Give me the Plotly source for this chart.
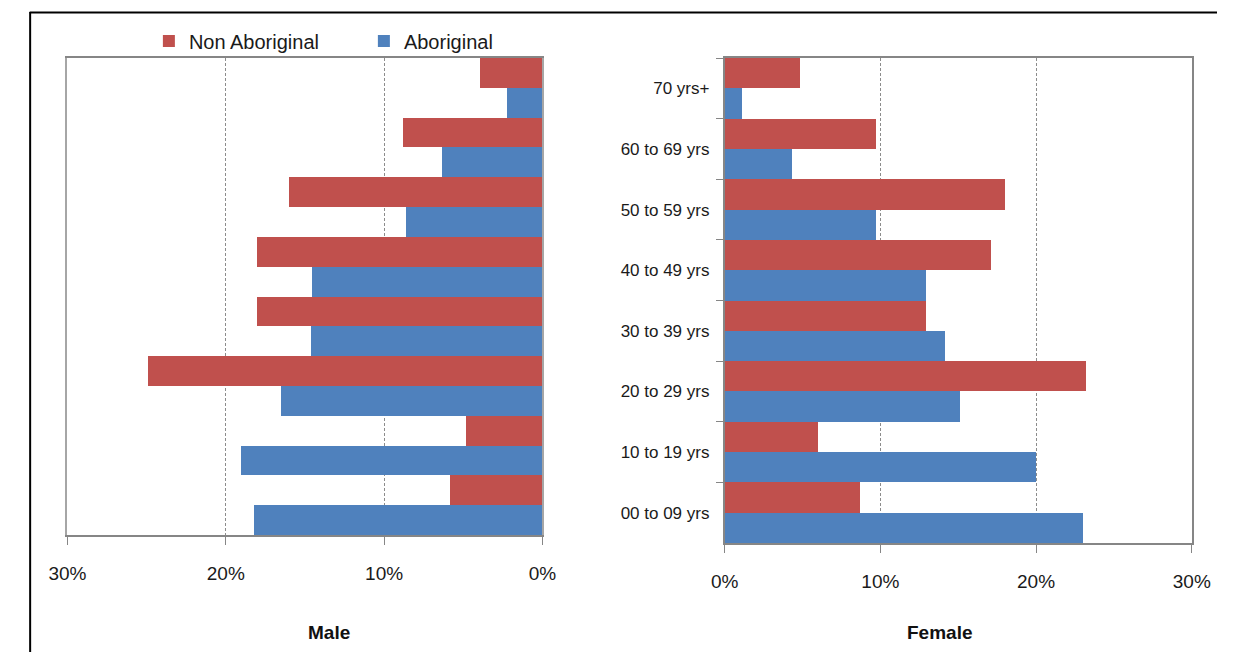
import plotly.graph_objects as go

# Age bands, bottom to top
age_groups = ["00 to 09 yrs", "10 to 19 yrs", "20 to 29 yrs", "30 to 39 yrs",
              "40 to 49 yrs", "50 to 59 yrs", "60 to 69 yrs", "70 yrs+"]

# Share of each population (%) by age band
male_non_aboriginal = [5.8, 4.8, 24.9, 18.0, 18.0, 16.0, 8.8, 3.9]
male_aboriginal = [18.2, 19.0, 16.5, 14.6, 14.5, 8.6, 6.3, 2.2]
female_non_aboriginal = [8.7, 6.0, 23.2, 12.9, 17.1, 18.0, 9.7, 4.8]
female_aboriginal = [23.0, 20.0, 15.1, 14.1, 12.9, 9.7, 4.3, 1.1]

pct_ticks = [0, 10, 20, 30]
pct_tick_labels = ["0%", "10%", "20%", "30%"]

RED = "#C0504D"
BLUE = "#4F81BD"
FRAME = "#A6A6A6"
AXIS = "#868686"
GRID = "#8C8C8C"
FONT = "Liberation Sans"

W, H = 1236, 652

fig = go.Figure()

# Male panel (left, mirrored)
fig.add_trace(go.Bar(y=age_groups, x=male_aboriginal, orientation="h", name="Aboriginal",
                     marker=dict(color=BLUE, line=dict(width=0)), xaxis="x", yaxis="y",
                     legendgroup="abo"))
fig.add_trace(go.Bar(y=age_groups, x=male_non_aboriginal, orientation="h", name="Non Aboriginal",
                     marker=dict(color=RED, line=dict(width=0)), xaxis="x", yaxis="y",
                     legendgroup="non"))
# Female panel (right)
fig.add_trace(go.Bar(y=age_groups, x=female_aboriginal, orientation="h", name="Aboriginal",
                     marker=dict(color=BLUE, line=dict(width=0)), xaxis="x2", yaxis="y2",
                     legendgroup="abo", showlegend=False))
fig.add_trace(go.Bar(y=age_groups, x=female_non_aboriginal, orientation="h", name="Non Aboriginal",
                     marker=dict(color=RED, line=dict(width=0)), xaxis="x2", yaxis="y2",
                     legendgroup="non", showlegend=False))


def px_x(p):
    return p / W


def px_y(p):
    return 1 - p / H


tick_font = dict(family=FONT, size=19, color="#1a1a1a")

fig.update_layout(
    width=W, height=H,
    margin=dict(l=0, r=0, t=0, b=0),
    paper_bgcolor="white", plot_bgcolor="white",
    barmode="group", bargap=0, bargroupgap=0,
    font=dict(family=FONT, color="#1a1a1a"),
    showlegend=True,
    legend=dict(orientation="h", traceorder="reversed",
                x=px_x(134), xanchor="left", y=px_y(41), yanchor="middle",
                font=dict(family=FONT, size=20, color="#1a1a1a"),
                entrywidth=170, entrywidthmode="pixels",
                itemclick=False, itemdoubleclick=False,
                bgcolor="rgba(0,0,0,0)"),
    xaxis=dict(domain=[px_x(50), px_x(540)], range=[30, 0], anchor="y",
               tickmode="array", tickvals=pct_ticks, ticktext=pct_tick_labels,
               tickfont=tick_font,
               ticks="outside", ticklen=8, tickcolor=AXIS, tickwidth=1,
               ticklabelstandoff=12,
               showline=True, linecolor=AXIS, linewidth=1.5, mirror=True,
               showgrid=True, gridcolor=GRID, gridwidth=1, griddash="3px,2px",
               zeroline=False, fixedrange=True),
    yaxis=dict(domain=[px_y(535), px_y(58)], anchor="x", range=[-0.5, 7.5],
               showticklabels=False, ticks="",
               showline=True, linecolor=FRAME, linewidth=1.5, mirror=True,
               showgrid=False, zeroline=False, fixedrange=True),
    xaxis2=dict(domain=[px_x(728), px_x(1210)], range=[0, 30], anchor="y2",
                tickmode="array", tickvals=pct_ticks, ticktext=pct_tick_labels,
                tickfont=tick_font,
                ticks="outside", ticklen=8, tickcolor=AXIS, tickwidth=1,
                ticklabelstandoff=12,
                showline=True, linecolor=AXIS, linewidth=1.5, mirror=True,
                showgrid=True, gridcolor=GRID, gridwidth=1, griddash="3px,2px",
                zeroline=False, fixedrange=True),
    yaxis2=dict(domain=[px_y(543), px_y(58)], anchor="x2", range=[-0.5, 7.5],
                tickfont=dict(family=FONT, size=17, color="#1a1a1a"),
                ticks="outside", ticklen=7, tickcolor=AXIS, tickson="boundaries",
                ticklabelstandoff=10,
                showline=True, linecolor=AXIS, linewidth=1.5, mirror=True,
                showgrid=False, zeroline=False, fixedrange=True),
    annotations=[
        dict(text="<b>Male</b>", x=px_x(320), y=px_y(632), xref="paper", yref="paper",
             xanchor="center", yanchor="middle",
             showarrow=False, font=dict(family=FONT, size=19, color="#111")),
        dict(text="<b>Female</b>", x=px_x(950), y=px_y(632), xref="paper", yref="paper",
             xanchor="center", yanchor="middle",
             showarrow=False, font=dict(family=FONT, size=19, color="#111")),
    ],
    shapes=[
        # outer chart frame (top and left edges)
        dict(type="line", xref="paper", yref="paper", x0=px_x(11), x1=1.0,
             y0=px_y(12.5), y1=px_y(12.5), line=dict(color="black", width=2)),
        dict(type="line", xref="paper", yref="paper", x0=px_x(11.5), x1=px_x(11.5),
             y0=px_y(12), y1=0.0, line=dict(color="black", width=2)),
    ],
)

fig.write_html("out.html", config={"displayModeBar": False})
